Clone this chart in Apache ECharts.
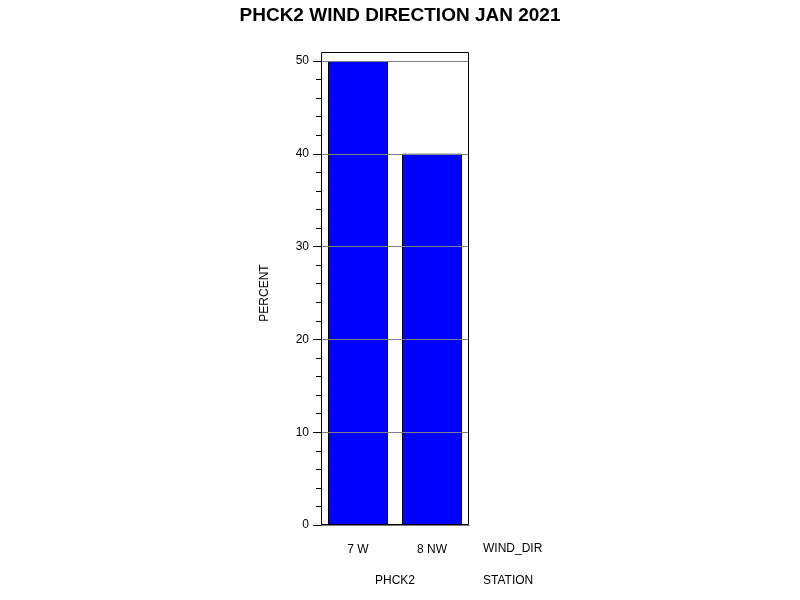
<!DOCTYPE html>
<html>
<head>
<meta charset="utf-8">
<script src="https://cdn.jsdelivr.net/npm/echarts@6/dist/echarts.min.js"></script>
<style>
  html, body { margin: 0; padding: 0; background: #fff; }
  #chart { width: 800px; height: 600px; }
</style>
</head>
<body>
<div id="chart"></div>
<script>
const chartTitle = 'PHCK2 WIND DIRECTION JAN 2021';
const windDirs = ['7 W', '8 NW'];
const percents = [50, 40];
const stationName = 'PHCK2';

const dom = document.getElementById('chart');
const myChart = echarts.init(dom);

const labelFont = 'Arial, "Liberation Sans", sans-serif';

var option = {
  backgroundColor: '#fff',
  animation: false,
  title: {
    text: chartTitle,
    left: 'center',
    top: 1,
    textStyle: { fontFamily: labelFont, fontSize: 19, fontWeight: 'bold', color: '#000' }
  },
  grid: {
    left: 321,
    top: 61,
    width: 148,
    height: 464,
    show: false
  },
  xAxis: {
    type: 'category',
    data: windDirs,
    axisLine: { show: true, lineStyle: { color: '#000' } },
    axisTick: { show: false },
    axisLabel: { margin: 19, fontFamily: labelFont, fontSize: 12, color: '#000' }
  },
  yAxis: {
    type: 'value',
    min: 0,
    max: 50,
    interval: 10,
    z: 5,
    name: 'PERCENT',
    nameLocation: 'middle',
    nameGap: 50,
    nameTextStyle: { fontFamily: labelFont, fontSize: 12, color: '#000' },
    axisLine: { show: true, lineStyle: { color: '#000' } },
    axisTick: { show: true, length: 8, lineStyle: { color: '#000' } },
    minorTick: { show: true, splitNumber: 5, length: 5, lineStyle: { color: '#000' } },
    splitLine: { show: true, lineStyle: { color: '#808080', width: 1 } },
    axisLabel: { fontFamily: labelFont, fontSize: 12, color: '#000', margin: 12 }
  },
  series: [
    {
      type: 'bar',
      data: percents,
      barWidth: 60,
      itemStyle: { color: '#0000ff', borderColor: '#000', borderWidth: 1 }
    }
  ],
  graphic: [
    {
      // plot frame, extends a little above the 50 line
      type: 'rect', z: 10, silent: true,
      shape: { x: 321.5, y: 52.5, width: 147, height: 472 },
      style: { fill: 'none', stroke: '#000', lineWidth: 1 }
    },
    {
      type: 'text', left: 483, top: 543,
      style: { text: 'WIND_DIR', font: '12px ' + labelFont, fill: '#000' }
    },
    {
      type: 'text', left: 483, top: 575,
      style: { text: 'STATION', font: '12px ' + labelFont, fill: '#000' }
    },
    {
      type: 'text', x: 395, y: 581,
      style: { text: stationName, font: '12px ' + labelFont, fill: '#000', align: 'center', verticalAlign: 'middle' }
    }
  ]
};

option && myChart.setOption(option);
</script>
</body>
</html>
